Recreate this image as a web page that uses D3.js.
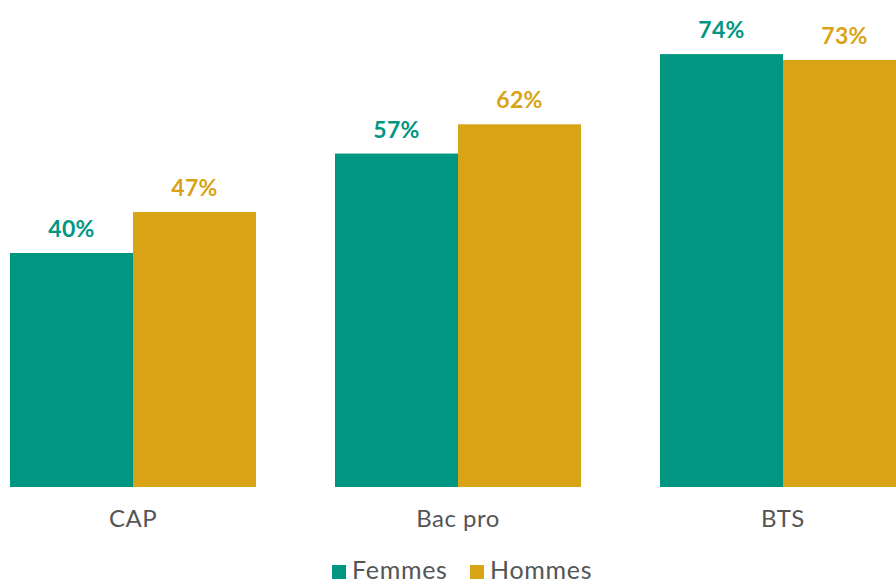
<!DOCTYPE html>
<html>
<head>
<meta charset="utf-8">
<script src="https://cdn.jsdelivr.net/npm/d3@7"></script>
<style>
  body { margin: 0; background: #fff; }
  svg { display: block; font-family: Lato, "Open Sans", sans-serif; }
</style>
</head>
<body>
<div id="chart"></div>
<script>
// data
const categories = ["CAP", "Bac pro", "BTS"];
const series = ["Femmes", "Hommes"];
const femmes = [40, 57, 74];
const hommes = [47, 62, 73];
const colors = ["#009682", "#d9a316"];

const width = 896;
const height = 581;
const baseline = 487;

const data = categories.map((c, i) => ({cat: c, values: [femmes[i], hommes[i]]}));

const svg = d3.select("#chart")
  .append("svg")
  .attr("width", width)
  .attr("height", height);

// scales
const x0 = d3.scaleBand()
  .domain(categories)
  .range([10, 906])
  .paddingInner(0.243)
  .paddingOuter(0);

const x1 = d3.scaleBand()
  .domain(series)
  .range([0, x0.bandwidth()]);

const y = d3.scaleLinear()
  .domain([0, 100])
  .range([baseline, baseline - 585]);

const groups = svg.selectAll(".group")
  .data(data)
  .join("g")
  .attr("class", "group")
  .attr("transform", d => `translate(${x0(d.cat)},0)`);

groups.selectAll("rect")
  .data(d => d.values.map((v, i) => ({s: series[i], v: v, i: i})))
  .join("rect")
  .attr("x", d => x1(d.s))
  .attr("y", d => y(d.v))
  .attr("width", x1.bandwidth())
  .attr("height", d => baseline - y(d.v))
  .attr("fill", d => colors[d.i]);

groups.selectAll(".val")
  .data(d => d.values.map((v, i) => ({s: series[i], v: v, i: i})))
  .join("text")
  .attr("class", "val")
  .attr("x", d => x1(d.s) + x1.bandwidth() / 2)
  .attr("y", d => y(d.v) - 16)
  .attr("text-anchor", "middle")
  .attr("font-size", 23)
  .attr("font-weight", 700)
  .attr("letter-spacing", 0.3)
  .attr("fill", d => colors[d.i])
  .text(d => d.v + "%");

// x axis labels
const xAxis = d3.axisBottom(x0).tickSize(0).tickPadding(0);
const xAxisGroup = svg.append("g")
  .attr("transform", `translate(0, ${baseline})`)
  .call(xAxis);
xAxisGroup.select(".domain").remove();
xAxisGroup.selectAll("text")
  .attr("y", 40)
  .attr("dy", null)
  .attr("font-family", "Lato, sans-serif")
  .attr("font-size", 24)
  .attr("letter-spacing", 0.5)
  .attr("fill", "#555");

// legend
const legendX = [332, 470];
const legend = svg.selectAll(".legend")
  .data(series)
  .join("g")
  .attr("class", "legend")
  .attr("transform", (d, i) => `translate(${legendX[i]}, 565)`);

legend.append("rect")
  .attr("width", 14)
  .attr("height", 14)
  .attr("fill", (d, i) => colors[i]);

legend.append("text")
  .attr("x", 20)
  .attr("y", 14)
  .attr("font-size", 25)
  .attr("letter-spacing", 0.7)
  .attr("fill", "#555")
  .text(d => d);
</script>
</body>
</html>
